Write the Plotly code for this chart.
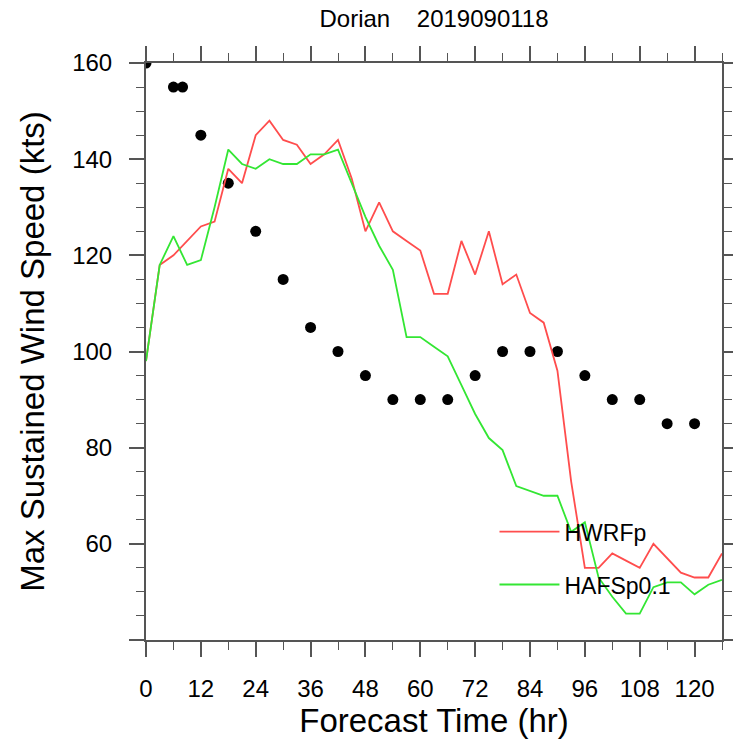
import plotly.graph_objects as go

# Forecast hours for model tracks (every 3 h)
fhr = list(range(0, 127, 3))

hwrfp = [98, 118, 120, 123, 126, 127, 138, 135, 145, 148, 144, 143, 139, 141, 144,
         136, 125, 131, 125, 123, 121, 112, 112, 123, 116, 125, 114, 116, 108, 106,
         96, 73, 55, 55, 58, 56.5, 55, 60, 57, 54, 53, 53, 58]

hafs = [98, 118, 124, 118, 119, 130, 142, 139, 138, 140, 139, 139, 141, 141, 142,
        135, 128, 122, 117, 103, 103, 101, 99, 93, 87, 82, 79.5, 72, 71, 70,
        70, 62.5, 64.5, 53, 49, 45.5, 45.5, 51, 52, 52, 49.5, 51.5, 52.5]

# Best track observations
obs_hr = [0, 6, 8, 12, 18, 24, 30, 36, 42, 48, 54, 60, 66, 72, 78, 84, 90, 96, 102, 108, 114, 120]
obs_val = [160, 155, 155, 145, 135, 125, 115, 105, 100, 95, 90, 90, 90, 95, 100, 100, 100, 95, 90, 90, 85, 85]

x_ticks = list(range(0, 121, 12))
y_ticks = [40, 60, 80, 100, 120, 140, 160]
y_labels = ["", "60", "80", "100", "120", "140", "160"]

FONT = "Liberation Sans, Arial, Helvetica, sans-serif"
AXIS = "#555555"

fig = go.Figure()
fig.add_trace(go.Scatter(x=obs_hr, y=obs_val, mode="markers",
                         marker=dict(color="black", size=11), showlegend=False))
fig.add_trace(go.Scatter(x=fhr, y=hwrfp, mode="lines", name="HWRFp",
                         line=dict(color="#ff4d4d", width=1.8), legendgroup="a"))
fig.add_trace(go.Scatter(x=fhr, y=hafs, mode="lines", name="HAFSp0.1",
                         line=dict(color="#33e633", width=1.8), legendgroup="b"))

axis_common = dict(showgrid=False, zeroline=False, showline=True, linecolor=AXIS,
                   linewidth=2, mirror="ticks", ticks="outside", tickcolor=AXIS,
                   tickwidth=2, ticklen=15, automargin=False,
                   tickfont=dict(size=24, color="black", family=FONT))

fig.update_xaxes(range=[0, 126], tickvals=x_ticks, ticklabelstandoff=11,
                 title=dict(text="Forecast Time (hr)", font=dict(size=33, color="black", family=FONT), standoff=0),
                 minor=dict(dtick=6, tick0=0, ticks="outside", ticklen=8, tickcolor=AXIS, tickwidth=1),
                 **axis_common)
fig.update_yaxes(range=[40, 160], tickvals=y_ticks, ticktext=y_labels, ticklabelstandoff=12,
                 title=dict(text="Max Sustained Wind Speed (kts)", font=dict(size=33, color="black", family=FONT), standoff=18),
                 minor=dict(dtick=5, tick0=40, ticks="outside", ticklen=8, tickcolor=AXIS, tickwidth=1),
                 **axis_common)

fig.update_layout(
    width=733, height=745,
    margin=dict(l=146, r=11, t=63, b=105),
    plot_bgcolor="white", paper_bgcolor="white",
    title=dict(text="Dorian    2019090118", xref="paper", x=0.5, xanchor="center",
               y=0.9755, yanchor="middle", automargin=False,
               font=dict(size=24, color="black", family=FONT)),
    legend=dict(x=0.605, xanchor="left", y=0.225, yanchor="top", bgcolor="rgba(0,0,0,0)",
                font=dict(size=23, color="black", family=FONT), itemwidth=60,
                tracegroupgap=20, borderwidth=0),
    showlegend=True,
)

# Remove the default 8px page margin so the figure fills the window exactly.
fig.write_html("out.html", config={"displayModeBar": False},
               post_script="document.body.style.margin='0';")
